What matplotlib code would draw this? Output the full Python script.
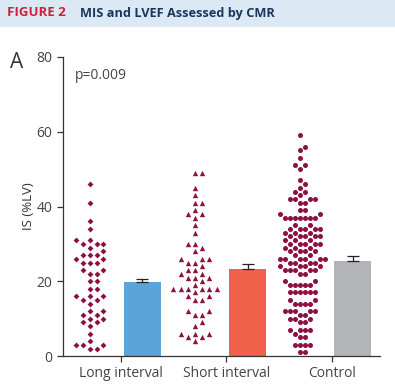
import numpy as np
import matplotlib
matplotlib.use("Agg")
import matplotlib.pyplot as plt
from matplotlib.patches import Rectangle


# -----------------------------
# DATA
# -----------------------------

groups = ["Long interval", "Short interval", "Control"]

bar_means = [19.8, 23.3, 25.4]
bar_sem = [0.9, 1.2, 1.3]
bar_colors = ["#5aa4da", "#f0604a", "#b2b4b7"]

long_values = [46, 41, 36, 34, 31, 31, 30, 30, 30, 29, 28, 27, 27, 27,
               26, 26, 25, 25, 25, 23, 23, 22, 22, 20, 20, 18, 18,
               16, 16, 16, 15, 15, 14, 12, 12, 11, 11, 10, 10, 9, 9,
               8, 6, 4, 3, 3, 3, 2, 2]

short_values = [49, 49, 45, 43, 41, 41, 39, 38, 38, 37, 35, 33, 30, 30,
                29, 28, 26, 26, 26, 25, 25, 24, 23, 23, 22, 22, 21, 21,
                21, 20, 19, 18, 18, 18, 18, 18, 18, 17, 16, 16, 15, 15,
                12, 12, 11, 11, 9, 8, 6, 6, 6, 5, 5, 4]

control_levels = [59, 56, 55, 53, 51, 50, 47, 46, 45, 44, 43, 42, 41,
                  39, 38, 37, 35, 34, 33, 32, 31, 30, 29, 28, 27,
                  26, 25, 24, 23, 22, 20, 19, 17, 15, 14, 12, 11, 10,
                  9, 7, 6, 5, 3, 1]
control_counts = [1, 1, 1, 1, 2, 1, 1, 1, 1, 2, 1, 4, 2,
                  2, 2, 7, 2, 5, 3, 5, 3, 5, 3, 4, 2,
                  6, 4, 4, 5, 2, 2, 5, 6, 2, 4, 5, 2, 3,
                  2, 4, 1, 2, 4, 2]

control_values = np.repeat(control_levels, control_counts)

dot_color = "#8e1040"


# -----------------------------
# SWARM LAYOUT (pixel space)
# -----------------------------

def swarm(ax, center, values, d):
    vals = np.sort(np.asarray(values, dtype=float))
    pts = ax.transData.transform(np.column_stack([np.full(len(vals), center), vals]))
    cx = pts[0, 0]
    placed = []
    offsets = [0.0]
    for k in range(1, 40):
        offsets += [k * d / 2, -k * d / 2]
    for _, py in pts:
        for off in offsets:
            ok = True
            for qx, qy in placed:
                if (cx + off - qx) ** 2 + (py - qy) ** 2 < (d * 0.97) ** 2:
                    ok = False
                    break
            if ok:
                placed.append((cx + off, py))
                break
    placed = np.array(placed)
    return ax.transData.inverted().transform(placed)


# -----------------------------
# FIGURE
# -----------------------------

plt.rcParams["font.family"] = ["Open Sans", "DejaVu Sans"]

fig = plt.figure(figsize=(3.95, 3.92), dpi=100)

fig.patches.append(Rectangle((0, 1 - 27 / 392), 1, 27 / 392,
                             transform=fig.transFigure,
                             facecolor="#dce8f4", edgecolor="none"))

fig.text(7 / 395, 1 - 13 / 392, "FIGURE 2", color="#d0203a",
         fontsize=9.5, fontweight="bold", va="center", ha="left")

fig.text(80 / 395, 1 - 13 / 392, "MIS and LVEF Assessed by CMR",
         color="#1b365d", fontsize=9.2, fontweight="bold",
         va="center", ha="left")

fig.text(10 / 395, 1 - 63 / 392, "A", color="#333333",
         fontsize=15, va="center", ha="left")

ax = fig.add_axes([63 / 395, 36 / 392, 317 / 395, 299 / 392])

ax.set_xlim(-0.51, 5.52)
ax.set_ylim(0, 80)

# bars
bar_x = [1, 3, 5]

ax.bar(bar_x, bar_means, width=0.7, color=bar_colors, zorder=2)

ax.errorbar(bar_x, bar_means,
            yerr=[[0, 0, 0], bar_sem],
            fmt="none", ecolor="#222222", elinewidth=0.9,
            capsize=4.3, capthick=0.9, zorder=3)

# dots
fig.canvas.draw()

pos = swarm(ax, 0, long_values, 6.8)
ax.scatter(pos[:, 0], pos[:, 1], marker="D", s=9, color=dot_color,
           linewidths=0, zorder=4)

pos = swarm(ax, 2, short_values, 7.2)
ax.scatter(pos[:, 0], pos[:, 1], marker="^", s=15, color=dot_color,
           linewidths=0, zorder=4)

pos = swarm(ax, 4, control_values, 5.0)
ax.scatter(pos[:, 0], pos[:, 1], marker="o", s=13, color=dot_color,
           linewidths=0, zorder=4)

# axes styling
for side in ["top", "right"]:
    ax.spines[side].set_visible(False)

for side in ["left", "bottom"]:
    ax.spines[side].set_color("#333333")
    ax.spines[side].set_linewidth(0.9)

ax.set_yticks([0, 20, 40, 60, 80])
ax.set_xticks([0.6, 2.6, 4.6])
ax.set_xticklabels(groups)

ax.tick_params(axis="both", colors="#333333", labelsize=10,
               length=4, width=0.9, labelcolor="#444444")

ax.set_ylabel("IS (%LV)", fontsize=9.5, color="#333333", labelpad=1)

ax.text(-0.29, 75, "p=0.009", fontsize=10, color="#444444",
        va="center", ha="left")

fig.savefig("out.png", dpi=100)
